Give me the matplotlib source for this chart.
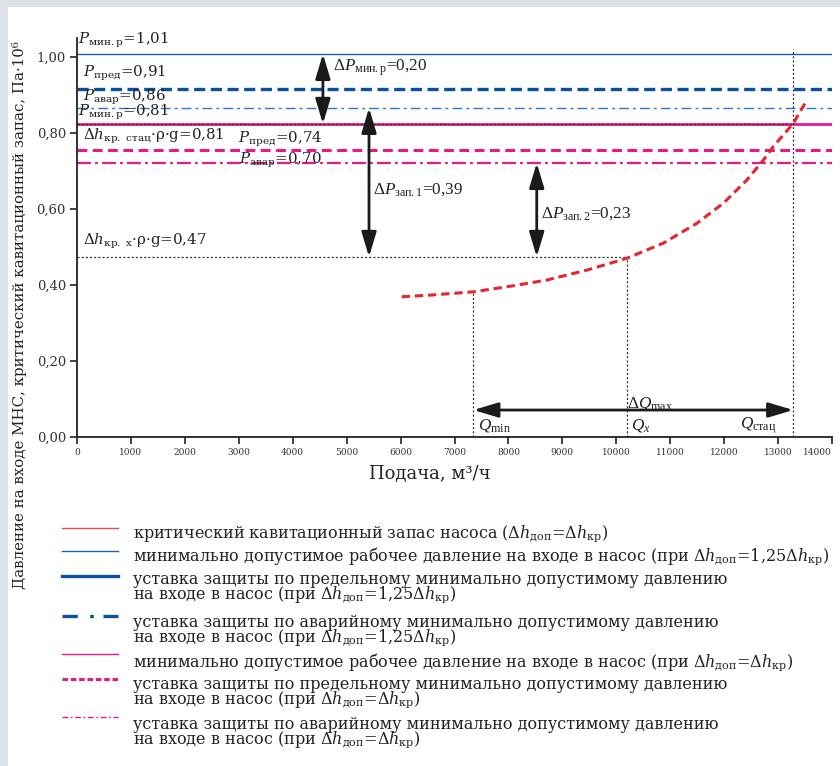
import matplotlib
matplotlib.use('Agg')
import matplotlib.pyplot as plt
from matplotlib.patches import Rectangle

plt.rcParams['font.family'] = ['DejaVu Serif']
plt.rcParams['mathtext.fontset'] = 'custom'
plt.rcParams['mathtext.rm'] = 'Liberation Serif'
plt.rcParams['mathtext.it'] = 'Liberation Serif:italic'
plt.rcParams['lines.scale_dashes'] = False

# критический кавитационный запас насоса
q_curve = [6020, 6610, 7350, 8090, 8710, 9450, 10190, 10870, 11490, 11985, 12420, 12730, 12910, 13280, 13500]
p_curve = [0.369, 0.374, 0.382, 0.398, 0.413, 0.439, 0.470, 0.510, 0.562, 0.615, 0.676, 0.729, 0.764, 0.825, 0.878]

# уровни давления, Па·10^6
p_min_r_125 = 1.008
p_pred_125 = 0.915
p_avar_125 = 0.866
p_min_r = 0.824
p_pred = 0.755
p_avar = 0.721
dh_x = 0.474

# характерные подачи, м3/ч
q_min = 7350
q_x = 10190
q_stac = 13280

xticks = list(range(0, 14001, 1000))
yticks = [0.0, 0.2, 0.4, 0.6, 0.8, 1.0]
ytick_labels = ['0,00', '0,20', '0,40', '0,60', '0,80', '1,00']

BLUE = '#1560b0'
BLUE2 = '#0a4fa0'
BLUE3 = '#2a78c8'
MAG = '#e6198a'
RED = '#e8242c'
DOT = '#333333'

W, H = 840, 766
fig = plt.figure(figsize=(W / 100, H / 100), dpi=100)
fig.patch.set_facecolor('#dde1e8')
fig.patches.append(Rectangle((8 / W, 0), 1, (H - 7) / H, transform=fig.transFigure,
                             facecolor='white', edgecolor='none', zorder=-5))

ax = fig.add_axes([77 / W, 1 - 437 / H, 755 / W, 399 / H])
ax.patch.set_alpha(0)
ax.set_xlim(0, 14000)
ax.set_ylim(0, 1.05)
for s in ['top', 'right']:
    ax.spines[s].set_visible(False)
for s in ['left', 'bottom']:
    ax.spines[s].set_linewidth(1.3)
    ax.spines[s].set_color('#222222')
ax.set_xticks(xticks)
ax.set_xticklabels([str(t) for t in xticks], fontsize=6.5, color='#333333')
ax.get_xticklabels()[-1].set_horizontalalignment('right')
ax.set_yticks(yticks)
ax.set_yticklabels(ytick_labels, fontsize=9.5, color='#333333')
ax.tick_params(axis='both', direction='out', length=5, width=1.2, color='#222222', pad=3)

# горизонтальные уровни
ax.plot([0, 14000], [p_min_r_125] * 2, color=BLUE, lw=1.0)
ax.plot([0, 14000], [p_pred_125] * 2, color=BLUE2, lw=2.4, dashes=(8, 4))
ax.plot([0, 14000], [p_avar_125] * 2, color=BLUE3, lw=1.0, dashes=(7, 3, 2, 3))
ax.plot([0, 14000], [p_min_r] * 2, color=MAG, lw=2.0)
ax.plot([0, 14000], [p_pred] * 2, color=MAG, lw=2.2, dashes=(7, 4))
ax.plot([0, 14000], [p_avar] * 2, color=MAG, lw=1.6, dashes=(10, 3, 2, 3))

# вспомогательные пунктиры
ax.plot([0, q_stac], [p_min_r] * 2, color=DOT, lw=0.9, dashes=(1.5, 1.5))
ax.plot([0, q_x], [dh_x] * 2, color=DOT, lw=0.9, dashes=(1.5, 1.5))
ax.plot([q_min] * 2, [0, p_curve[2]], color=DOT, lw=0.9, dashes=(1.5, 1.5))
ax.plot([q_x] * 2, [0, dh_x], color=DOT, lw=0.9, dashes=(1.5, 1.5))
ax.plot([q_stac] * 2, [0, 1.02], color=DOT, lw=0.9, dashes=(1.5, 1.5))

# кривая
ax.plot(q_curve, p_curve, color=RED, lw=2.2, dashes=(6, 3.5))

# стрелки
arr = dict(arrowstyle='<|-|>,head_length=1.0,head_width=0.3', mutation_scale=15,
           lw=2.0, color='#1a1a1a', shrinkA=0, shrinkB=0)
ax.annotate('', xy=(4560, p_min_r_125), xytext=(4560, p_min_r), arrowprops=arr)
ax.annotate('', xy=(5415, p_avar_125), xytext=(5415, dh_x), arrowprops=arr)
ax.annotate('', xy=(8525, p_avar), xytext=(8525, dh_x), arrowprops=arr)
ax.annotate('', xy=(q_min, 0.071), xytext=(q_stac, 0.071), arrowprops=arr)

# подписи
lbl = dict(fontsize=10.8, color='#222222', va='center', ha='left', math_fontfamily='dejavuserif')
ax.text(19, 1.045, r'$P_{\mathrm{мин.р}}$=1,01', **lbl)
ax.text(111, 0.958, r'$P_{\mathrm{пред}}$=0,91', **lbl)
ax.text(111, 0.895, r'$P_{\mathrm{авар}}$=0,86', **lbl)
ax.text(19, 0.855, r'$P_{\mathrm{мин.р}}$=0,81', **lbl)
ax.text(111, 0.792, r'$\mathit{\Delta h}_{\mathrm{кр.\ стац}}$·ρ·g=0,81', **lbl)
ax.text(2985, 0.784, r'$P_{\mathrm{пред}}$=0,74', **lbl)
ax.text(3004, 0.729, r'$P_{\mathrm{авар}}$=0,70', **lbl)
ax.text(111, 0.516, r'$\mathit{\Delta h}_{\mathrm{кр.\ х}}$·ρ·g=0,47', **lbl)

al = dict(fontsize=12.3, color='#222222', va='center', ha='left', family='Liberation Serif')
ax.text(4750, 0.971, r'Δ$P_{\mathrm{мин.р}}$=0,20', **al)
ax.text(5495, 0.650, r'Δ$P_{\mathrm{зап.1}}$=0,39', **al)
ax.text(8600, 0.589, r'Δ$P_{\mathrm{зап.2}}$=0,23', **al)
ax.text(10190, 0.089, r'Δ$Q_{\mathrm{max}}$', **al)
ax.text(7440, 0.031, r'$Q_{\mathrm{min}}$', **al)
ax.text(10270, 0.031, r'$Q_x$', **al)
ax.text(12300, 0.031, r'$Q_{\mathrm{стац}}$', **al)

fig.text(430 / W, 1 - 474 / H, 'Подача, м³/ч', fontsize=13, ha='center', va='center', color='#222222')
fig.text(20 / W, 1 - 315 / H, 'Давление на входе МНС, критический кавитационный запас, Па·10⁶',
         fontsize=10.8, rotation=90, ha='center', va='center', color='#222222')

# легенда
lax = fig.add_axes([0, 0, 1, 1])
lax.set_xlim(0, W)
lax.set_ylim(H, 0)
lax.axis('off')

legend_styles = [
    dict(color='#f04848', lw=1.0),
    dict(color=BLUE, lw=1.0),
    dict(color=BLUE2, lw=2.4),
    dict(color=BLUE2, lw=2.4, dashes=(11, 9, 2.5, 7)),
    dict(color=MAG, lw=1.0),
    dict(color=MAG, lw=2.2, dashes=(4, 2)),
    dict(color=MAG, lw=1.0, dashes=(4, 2, 1.2, 2)),
]
k125 = r'(при $\Delta \mathit{h}_{\mathrm{доп}}$=1,25$\Delta \mathit{h}_{\mathrm{кр}}$)'
k100 = r'(при $\Delta \mathit{h}_{\mathrm{доп}}$=$\Delta \mathit{h}_{\mathrm{кр}}$)'
legend_texts = [
    [r'критический кавитационный запас насоса ($\Delta \mathit{h}_{\mathrm{доп}}$=$\Delta \mathit{h}_{\mathrm{кр}}$)'],
    ['минимально допустимое рабочее давление на входе в насос ' + k125],
    ['уставка защиты по предельному минимально допустимому давлению', 'на входе в насос ' + k125],
    ['уставка защиты по аварийному минимально допустимому давлению', 'на входе в насос ' + k125],
    ['минимально допустимое рабочее давление на входе в насос ' + k100],
    ['уставка защиты по предельному минимально допустимому давлению', 'на входе в насос ' + k100],
    ['уставка защиты по аварийному минимально допустимому давлению', 'на входе в насос ' + k100],
]
line_y = [528, 551, 576, 616, 654, 679, 717]
text_y = [537, 560, 584, 627, 666, 689, 729]
for st, txt, ly, ty in zip(legend_styles, legend_texts, line_y, text_y):
    lax.plot([62, 118], [ly, ly], **st)
    for i, t in enumerate(txt):
        lax.text(133, ty + 14 * i, t, fontsize=11.5, va='baseline', ha='left', color='#222222',
                 math_fontfamily='dejavuserif')

fig.savefig('out.png', dpi=100, facecolor=fig.get_facecolor())
